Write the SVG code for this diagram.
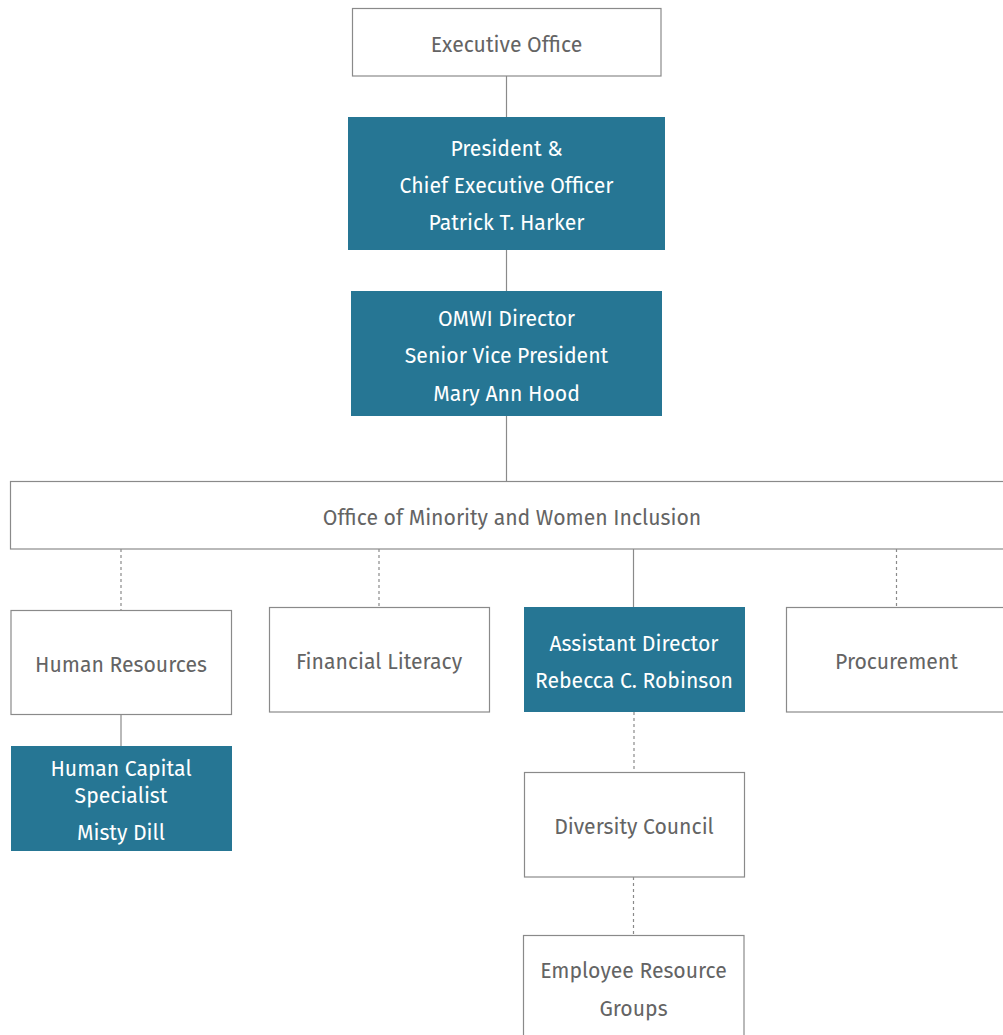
<svg xmlns="http://www.w3.org/2000/svg" width="1003" height="1035" viewBox="0 0 1003 1035">
<style>
.box{fill:#fff;stroke:#8a8a8a;stroke-width:1.2}
.dark{fill:#267694}
.t{font-family:"Fira Sans","Open Sans","Noto Sans",sans-serif;font-size:21.2px;font-weight:400;text-anchor:middle;dominant-baseline:central;fill:#646464}
.w{fill:#ffffff}
.c{stroke:#8a8a8a;stroke-width:1.2;fill:none}
.d{stroke-dasharray:3 3}
</style>
<rect width="1003" height="1035" fill="#fff"/>
<g id="connectors">
<line class="c" x1="506.5" y1="76" x2="506.5" y2="117"/>
<line class="c" x1="506.5" y1="250" x2="506.5" y2="291"/>
<line class="c" x1="506.5" y1="416" x2="506.5" y2="481"/>
<line class="c d" x1="121" y1="549" x2="121" y2="610"/>
<line class="c d" x1="379" y1="549" x2="379" y2="607"/>
<line class="c" x1="633.5" y1="549" x2="633.5" y2="607"/>
<line class="c d" x1="896.5" y1="549" x2="896.5" y2="607"/>
<line class="c" x1="121" y1="714" x2="121" y2="746"/>
<line class="c d" x1="634" y1="712" x2="634" y2="772"/>
<line class="c d" x1="633.5" y1="877" x2="633.5" y2="935"/>
</g>
<g id="executive-office">
<rect class="box" x="352.5" y="8.5" width="308.5" height="67.5"/>
<text class="t" x="506.5" y="45">Executive Office</text>
</g>
<g id="president">
<rect class="dark" x="348" y="117" width="317" height="133"/>
<text class="t w" x="506.5" y="149">President &amp;</text>
<text class="t w" x="506.5" y="186">Chief Executive Officer</text>
<text class="t w" x="506.5" y="223">Patrick T. Harker</text>
</g>
<g id="omwi-director">
<rect class="dark" x="351" y="291" width="311" height="125"/>
<text class="t w" x="506.5" y="319">OMWI Director</text>
<text class="t w" x="506.5" y="356">Senior Vice President</text>
<text class="t w" x="506.5" y="394">Mary Ann Hood</text>
</g>
<g id="omwi-office">
<rect class="box" x="10.5" y="481.5" width="1000" height="67.5"/>
<text class="t" x="512" y="518">Office of Minority and Women Inclusion</text>
</g>
<g id="human-resources">
<rect class="box" x="11" y="610.5" width="220.5" height="104"/>
<text class="t" x="121" y="665">Human Resources</text>
</g>
<g id="financial-literacy">
<rect class="box" x="269.5" y="607.5" width="220" height="104.5"/>
<text class="t" x="379" y="662">Financial Literacy</text>
</g>
<g id="assistant-director">
<rect class="dark" x="524" y="607" width="221" height="105"/>
<text class="t w" x="634" y="644">Assistant Director</text>
<text class="t w" x="634" y="681">Rebecca C. Robinson</text>
</g>
<g id="procurement">
<rect class="box" x="786.5" y="607.5" width="230" height="104.5"/>
<text class="t" x="896.5" y="662">Procurement</text>
</g>
<g id="human-capital">
<rect class="dark" x="11" y="746" width="221" height="105"/>
<text class="t w" x="121" y="769">Human Capital</text>
<text class="t w" x="121" y="796">Specialist</text>
<text class="t w" x="121" y="833">Misty Dill</text>
</g>
<g id="diversity-council">
<rect class="box" x="524.5" y="772.5" width="220" height="104.5"/>
<text class="t" x="634" y="827">Diversity Council</text>
</g>
<g id="employee-resource-groups">
<rect class="box" x="523.5" y="935.5" width="220.5" height="110"/>
<text class="t" x="633.5" y="971">Employee Resource</text>
<text class="t" x="633.5" y="1009">Groups</text>
</g>
</svg>
